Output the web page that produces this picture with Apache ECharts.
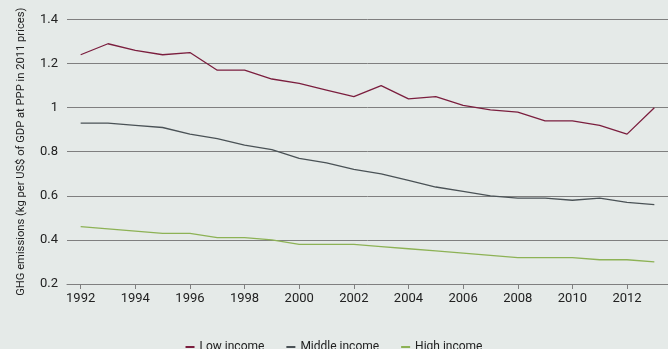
<!DOCTYPE html>
<html><head><meta charset="utf-8">
<script src="https://cdn.jsdelivr.net/npm/echarts@6/dist/echarts.min.js"></script>
<style>html,body{margin:0;padding:0;background:#E5EAE8}#c{width:668px;height:349px}</style>
</head><body><div id="c"></div>
<script>
const years = ['1992','1993','1994','1995','1996','1997','1998','1999','2000','2001','2002','2003','2004','2005','2006','2007','2008','2009','2010','2011','2012','2013'];
const lowIncome = [1.24,1.29,1.26,1.24,1.25,1.17,1.17,1.13,1.11,1.08,1.05,1.10,1.04,1.05,1.01,0.99,0.98,0.94,0.94,0.92,0.88,1.00];
const middleIncome = [0.93,0.93,0.92,0.91,0.88,0.86,0.83,0.81,0.77,0.75,0.72,0.70,0.67,0.64,0.62,0.60,0.59,0.59,0.58,0.59,0.57,0.56];
const highIncome = [0.46,0.45,0.44,0.43,0.43,0.41,0.41,0.40,0.38,0.38,0.38,0.37,0.36,0.35,0.34,0.33,0.32,0.32,0.32,0.31,0.31,0.30];
const seriesNames = ['Low income','Middle income','High income'];
const colors = ['#7B1E3E','#4A5256','#8DB255'];
const chart = echarts.init(document.getElementById('c'));
const font = 'Roboto';
chart.setOption({
  backgroundColor:'#E5EAE8',
  animation:false,
  textStyle:{fontFamily:font},
  grid:{left:67,right:0,top:19.5,bottom:65},
  legend:{top:336,left:'center',itemWidth:9,itemHeight:2,itemGap:22,icon:'rect',
    textStyle:{fontFamily:font,fontSize:12,color:'#222'},data:seriesNames},
  xAxis:{type:'category',data:years,boundaryGap:true,
    axisLine:{show:true,lineStyle:{color:'#7f7f7f',width:1}},
    axisTick:{show:true,alignWithLabel:true,interval:1,length:5,lineStyle:{color:'#7f7f7f'}},
    axisLabel:{interval:1,fontSize:13,color:'#222',margin:8,fontFamily:font}},
  yAxis:{type:'value',min:0.2,max:1.4,interval:0.2,
    name:'GHG emissions (kg per US$ of GDP at PPP in 2011 prices)',
    nameLocation:'middle',nameGap:40,nameTextStyle:{fontSize:11.2,color:'#222',fontFamily:font},
    axisLine:{show:false},axisTick:{show:false},
    axisLabel:{fontSize:13,color:'#222',margin:9,formatter:v=>String(Math.round(v*10)/10)},
    splitLine:{lineStyle:{color:'#7f7f7f',width:1}}},
  series:[
    {name:seriesNames[0],type:'line',data:lowIncome,symbol:'none',lineStyle:{color:colors[0],width:1.3},itemStyle:{color:colors[0]}},
    {name:seriesNames[1],type:'line',data:middleIncome,symbol:'none',lineStyle:{color:colors[1],width:1.3},itemStyle:{color:colors[1]}},
    {name:seriesNames[2],type:'line',data:highIncome,symbol:'none',lineStyle:{color:colors[2],width:1.3},itemStyle:{color:colors[2]}}
  ]
});
</script></body></html>
